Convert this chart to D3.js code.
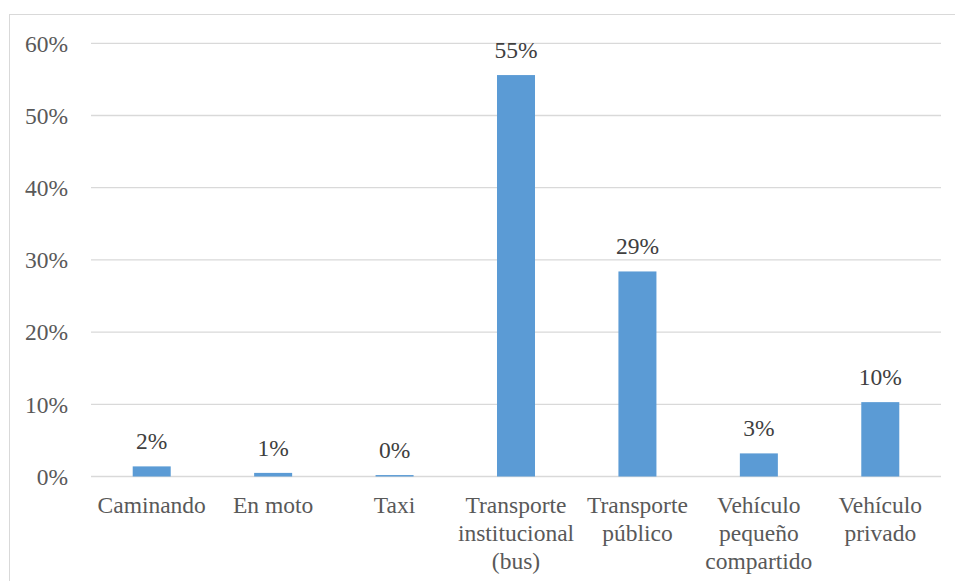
<!DOCTYPE html>
<html><head><meta charset="utf-8">
<script src="https://cdn.jsdelivr.net/npm/d3@7"></script>
<style>body{margin:0;background:#fff}svg{display:block}</style>
</head><body>
<script>
const categories = [["Caminando"],["En moto"],["Taxi"],["Transporte","institucional","(bus)"],["Transporte","público"],["Vehículo","pequeño","compartido"],["Vehículo","privado"]];
const values = [0.014, 0.005, 0.002, 0.556, 0.284, 0.032, 0.103];
const labels = ["2%","1%","0%","55%","29%","3%","10%"];
const yTicks = [0,0.1,0.2,0.3,0.4,0.5,0.6];

const W=955,H=581;
const FONT='"Liberation Serif", Tinos, "Times New Roman", Times';
const svg=d3.select("body").append("svg").attr("width",W).attr("height",H);
svg.append("rect").attr("x",9.5).attr("y",14.5).attr("width",W).attr("height",H).attr("fill","#fff").attr("stroke","#d9d9d9");
const x=d3.scaleBand().domain(d3.range(categories.length)).range([91,941]).paddingInner(0.687).paddingOuter(0.3435);
const y=d3.scaleLinear().domain([0,0.6]).range([476.5,43.3]);
const fs=23.5;
svg.append("g").selectAll("line").data(yTicks).join("line")
 .attr("x1",91).attr("x2",941).attr("y1",d=>y(d)).attr("y2",d=>y(d))
 .attr("stroke","#d9d9d9").attr("stroke-width",1.3);
svg.append("g").selectAll("text").data(yTicks).join("text")
 .attr("x",68).attr("y",d=>y(d)+8.3).attr("text-anchor","end")
 .style("font-family",FONT).style("font-size",fs+"px").attr("fill","#595959")
 .text(d=>d3.format(".0%")(d));
svg.append("g").selectAll("rect").data(values).join("rect")
 .attr("x",(d,i)=>x(i)).attr("width",x.bandwidth()).attr("y",d=>y(d)).attr("height",d=>y(0)-y(d))
 .attr("fill","#5b9bd5");
svg.append("g").selectAll("text").data(values).join("text")
 .attr("x",(d,i)=>x(i)+x.bandwidth()/2).attr("y",d=>y(d)-17).attr("text-anchor","middle")
 .style("font-family",FONT).style("font-size",fs+"px").attr("fill","#404040")
 .text((d,i)=>labels[i]);
const xl=svg.append("g").selectAll("text").data(categories).join("text")
 .attr("x",(d,i)=>x(i)+x.bandwidth()/2).attr("y",513).attr("text-anchor","middle")
 .style("font-family",FONT).style("font-size",fs+"px").attr("fill","#595959");
xl.selectAll("tspan").data(d=>d).join("tspan")
 .attr("x",function(){return this.parentNode.getAttribute("x");})
 .attr("dy",(d,i)=>i?28:0).text(d=>d);
</script>
</body></html>
